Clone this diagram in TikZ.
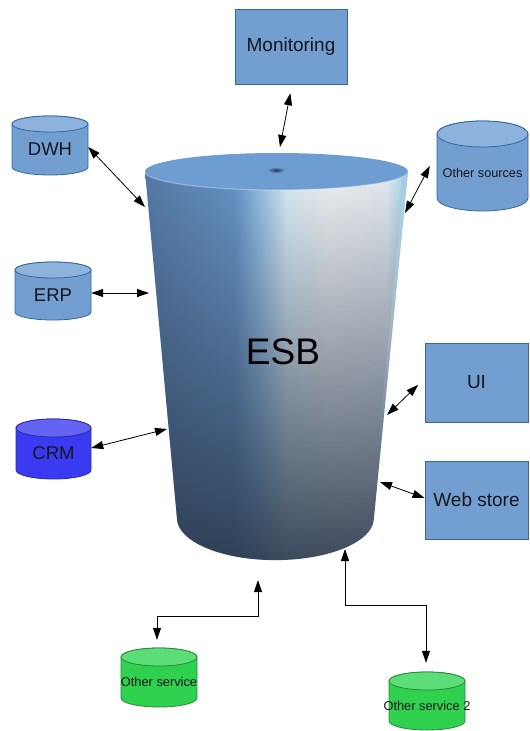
\documentclass[tikz,border=0pt]{standalone}
\usepackage{fontspec}
\setmainfont{Liberation Sans}
\usetikzlibrary{arrows.meta,fadings}

% flat boxes and database drums
\definecolor{boxfill}{HTML}{729FCF}
\definecolor{boxline}{HTML}{3465A4}
\definecolor{dbside}{HTML}{729FCF}
\definecolor{dbtop}{HTML}{8DB2DC}
\definecolor{dbline}{HTML}{3465A4}
\definecolor{crmside}{HTML}{3A3AF2}
\definecolor{crmtop}{HTML}{6464F4}
\definecolor{crmline}{HTML}{2A2AA8}
\definecolor{grside}{HTML}{2FD14E}
\definecolor{grtop}{HTML}{5CDD77}
\definecolor{grline}{HTML}{2A8A3C}
\definecolor{inktext}{HTML}{16161E}
% the central bus cylinder
\definecolor{esbA}{RGB}{86,122,166}
\definecolor{esbB}{RGB}{102,147,197}
\definecolor{esbC}{RGB}{145,188,226}
\definecolor{esbD}{RGB}{218,236,245}
\definecolor{esbE}{RGB}{238,240,242}
\definecolor{esbF}{RGB}{228,234,240}
\definecolor{esbG}{RGB}{180,218,235}
\definecolor{esbH}{RGB}{130,170,205}
\definecolor{esbdark}{RGB}{42,56,76}
\definecolor{esbtop}{RGB}{110,157,210}
\definecolor{esbspot}{RGB}{30,55,85}

\pgfdeclarehorizontalshading{esbsweep}{100bp}{color(0bp)=(esbA); color(25bp)=(esbA); color(42bp)=(esbB); color(46.5bp)=(esbC); color(52bp)=(esbD); color(60bp)=(esbE); color(71bp)=(esbF); color(73.5bp)=(esbG); color(75bp)=(esbH); color(100bp)=(esbH)}
\tikzfading[name=esbdown, top color=transparent!100, middle color=transparent!80, bottom color=transparent!10]
\tikzfading[name=edgefade, top color=transparent!35, bottom color=transparent!100]

\tikzset{
  box/.style={draw=boxline, fill=boxfill, line width=0.8pt, inner sep=0pt,
              text=inktext, font=\fontsize{19}{22}\selectfont},
  link/.style={{Triangle[length=12pt,width=8pt]}-{Triangle[length=12pt,width=8pt]},
               line width=0.8pt, draw=black},
  drumtext/.style={inner sep=0pt, text=inktext},
}

% \drum{name}{left x}{top y}{width}{height}{colour prefix}{cap radius}{font size}{text}
\newcommand\drum[9]{%
  \path[draw=#6line, fill=#6side, line width=0.8pt]
    (#2,{-(#3)-(#7)}) -- (#2,{-(#3)-(#5)+(#7)})
    arc[start angle=180, end angle=360, x radius={(#4)/2}, y radius=#7]
    -- ({#2+#4},{-(#3)-(#7)})
    arc[start angle=0, end angle=180, x radius={(#4)/2}, y radius=#7] -- cycle;
  \path[draw=#6line, fill=#6top, line width=0.8pt]
    ({#2+(#4)/2},{-(#3)-(#7)}) ellipse[x radius={(#4)/2}, y radius=#7];
  \node[inner sep=0pt, minimum width=#4, minimum height=#5] (#1)
    at ({#2+(#4)/2},{-(#3)-(#5)/2}) {};
  \node[drumtext, font=\fontsize{#8}{#8}\selectfont] (#1-t)
    at ({#2+(#4)/2},{-(#3)-((#5)+(#7))/2}) {#9};
}

% outline of the bus cylinder's side
\newcommand\esbside{(145,-171.5) -- (177,-518)
  arc[start angle=180, end angle=360, x radius=98.5, y radius=42]
  -- (408,-171.5) -- cycle}

\begin{document}
\begin{tikzpicture}[x=1pt, y=1pt]
\useasboundingbox (0,0) rectangle (530,-731);

% ---- ESB cylinder ----
\path[shading=esbsweep, postaction={fill=esbdark, path fading=esbdown}] \esbside;
\begin{scope}
  \clip \esbside;
  \draw[esbG, line width=5pt, path fading=edgefade] (407,-175) -- (381,-440);
\end{scope}
\fill[esbtop] (276.5,-171.5) ellipse[x radius=131.5, y radius=18.5];
\draw[white, opacity=0.3, line width=1.2pt]
  (145,-171.5) arc[start angle=180, end angle=360, x radius=131.5, y radius=18.5];
\shade[inner color=esbspot, outer color=esbtop]
  (276,-170) ellipse[x radius=9, y radius=3];
\node[text=black, font=\fontsize{37}{40}\selectfont] (esb) at (283,-352) {ESB};

% attachment points on the cylinder surface
\coordinate (esb-mon) at (280,-147);
\coordinate (esb-dwh) at (145,-207);
\coordinate (esb-erp) at (149,-293);
\coordinate (esb-crm) at (167,-429);
\coordinate (esb-os)  at (405,-213);
\coordinate (esb-ui)  at (387,-415);
\coordinate (esb-web) at (380,-482);
\coordinate (esb-s1)  at (258,-580);
\coordinate (esb-s2)  at (345,-549);

% ---- boxes ----
\node[box, minimum width=112, minimum height=75] (mon) at (291,-46.5) {Monitoring};
\node[box, minimum width=103, minimum height=79] (ui)  at (476.5,-382.5) {UI};
\node[box, minimum width=103, minimum height=78] (web) at (476.5,-500) {Web store};

% ---- drums ----
\drum{dwh}{12}{116}{76}{59}{db}{8}{18.5}{DWH}
\drum{erp}{15}{262}{76}{58}{db}{8}{18.5}{ERP}
\drum{crm}{16}{419}{75}{60}{crm}{9}{18.5}{CRM}
\drum{os}{437}{121}{91}{90}{db}{13}{12.7}{Other sources}
\drum{os1}{121}{648}{76}{59}{gr}{9}{12.8}{Other service}
\drum{os2}{389}{672}{76}{58}{gr}{9}{12.8}{Other service 2}

% ---- connectors ----
\draw[link, shorten <=9pt] ([xshift=1pt]mon.south) -- (esb-mon);
\draw[link] ([yshift=-1.5pt]dwh.east) -- (esb-dwh);
\draw[link] ([yshift=-2pt]erp.east) -- (esb-erp);
\draw[link] ([yshift=1pt]crm.east) -- (esb-crm);
\draw[link] ([xshift=-7pt]os.west) -- (esb-os);
\draw[link, shorten <=9pt] ([yshift=4pt]ui.west) -- (esb-ui);
\draw[link] ([yshift=2pt]web.west) -- (esb-web);
\draw[link] ([xshift=-2pt,yshift=8pt]os1.north) -- ++(0,23) -| (esb-s1);
\draw[link] ([xshift=-1pt,yshift=9pt]os2.north) -- ++(0,57) -| (esb-s2);
\end{tikzpicture}
\end{document}
